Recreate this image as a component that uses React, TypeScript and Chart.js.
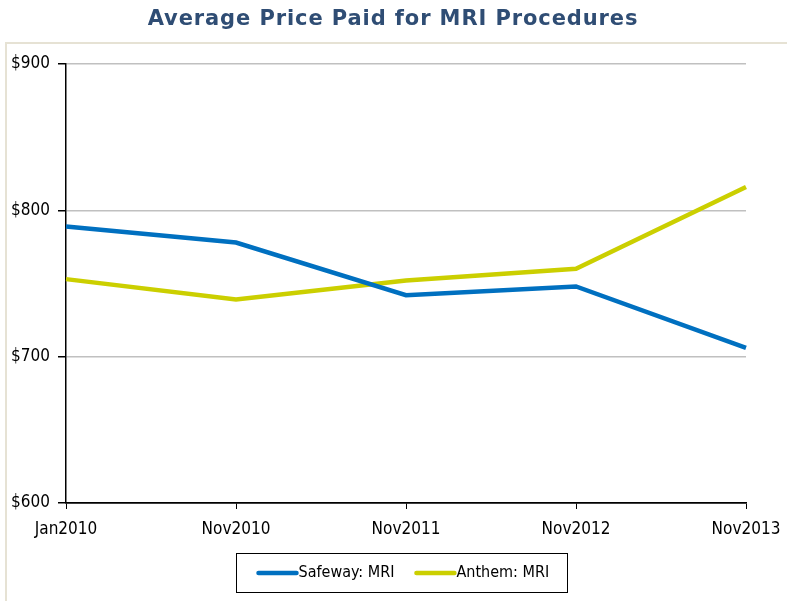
import React, { useEffect, useRef } from "react";
import { Chart, registerables } from "chart.js";

Chart.register(...registerables);

const titleText = "Average Price Paid for MRI Procedures";
const categories = ["Jan2010", "Nov2010", "Nov2011", "Nov2012", "Nov2013"];
const safewayLabel = "Safeway: MRI";
const safewayValues = [789, 778, 742, 748, 706];
const anthemLabel = "Anthem: MRI";
const anthemValues = [753, 739, 752, 760, 816];
const yMin = 600;
const yMax = 900;
const yStep = 100;

const AXIS_FONT = "'DejaVu Sans Condensed', 'Liberation Sans Narrow', 'Arial Narrow', 'Liberation Sans', sans-serif";

const decorPlugin = {
  id: "decor",
  beforeDraw(chart: any) {
    const ctx = chart.ctx;
    ctx.save();
    ctx.fillStyle = "#ffffff";
    ctx.fillRect(0, 0, chart.width, chart.height);
    // frame
    ctx.strokeStyle = "#e6e2d4";
    ctx.lineWidth = 2;
    ctx.beginPath();
    ctx.moveTo(6, chart.height);
    ctx.lineTo(6, 43);
    ctx.lineTo(chart.width, 43);
    ctx.stroke();
    // title
    ctx.fillStyle = "#2f4d74";
    ctx.font = "bold 21px 'DejaVu Sans', Verdana, sans-serif";
    try {
      (ctx as any).letterSpacing = "0.9px";
    } catch (e) {}
    ctx.textAlign = "center";
    ctx.textBaseline = "middle";
    ctx.fillText(titleText, 393, 20);
    try {
      (ctx as any).letterSpacing = "0px";
    } catch (e) {}
    ctx.restore();
  },
  afterDraw(chart: any) {
    const ctx = chart.ctx;
    ctx.save();
    ctx.font = "16px " + AXIS_FONT;
    ctx.textBaseline = "middle";
    ctx.textAlign = "left";
    const swatch = 38;
    const gapItems = 22;
    const sets = chart.data.datasets;
    const widths = sets.map((d: any) => swatch + 2 + ctx.measureText(d.label).width);
    const content = widths.reduce((a: number, b: number) => a + b, 0) + gapItems * (sets.length - 1);
    const padL = 22;
    const padR = 18;
    const boxW = Math.round(content + padL + padR);
    const cx = 401;
    const boxL = Math.round(cx - boxW / 2) + 0.5;
    const boxT = 553.5;
    const boxH = 39;
    ctx.strokeStyle = "#000";
    ctx.lineWidth = 1;
    ctx.strokeRect(boxL, boxT, boxW, boxH);
    let x = boxL + padL;
    const y = boxT + boxH / 2;
    sets.forEach((d: any, i: number) => {
      ctx.strokeStyle = d.borderColor;
      ctx.lineWidth = 4.5;
      ctx.lineCap = "round";
      ctx.beginPath();
      ctx.moveTo(x, y);
      ctx.lineTo(x + swatch, y);
      ctx.stroke();
      ctx.fillStyle = "#000";
      ctx.fillText(d.label, x + swatch + 2, y);
      x += widths[i] + gapItems;
    });
    ctx.restore();
  },
};

export default function App() {
  const ref = useRef<HTMLCanvasElement>(null);
  useEffect(() => {
    if (!ref.current) return;
    const chart = new Chart(ref.current, {
      type: "line",
      data: {
        labels: categories,
        datasets: [
          {
            label: safewayLabel,
            data: safewayValues,
            borderColor: "#0070c0",
            backgroundColor: "#0070c0",
            borderWidth: 4.5,
            pointRadius: 0,
            tension: 0,
          },
          {
            label: anthemLabel,
            data: anthemValues,
            borderColor: "#cbcf00",
            backgroundColor: "#cbcf00",
            borderWidth: 4.5,
            pointRadius: 0,
            tension: 0,
          },
        ],
      },
      options: {
        responsive: false,
        animation: false,
        layout: { padding: { top: 64, right: 41, bottom: 0, left: 0 } },
        plugins: {
          legend: { display: false },
          title: { display: false },
          tooltip: { enabled: false },
        },
        scales: {
          x: {
            offset: false,
            grid: {
              drawOnChartArea: false,
              drawTicks: true,
              tickLength: 6,
              tickColor: "#000",
            },
            border: { color: "#000", width: 1.5 },
            ticks: {
              color: "#000",
              font: { family: AXIS_FONT, size: 17 },
              padding: 10,
              maxRotation: 0,
            },
            afterFit(scale: any) {
              scale.height = 98;
              scale.paddingLeft = 0;
              scale.paddingRight = 0;
            },
          },
          y: {
            min: yMin,
            max: yMax,
            grid: {
              color: (c: any) => (c.tick && c.tick.value === yMin ? "#000" : "#c0c0c0"),
              lineWidth: 1.5,
              tickLength: 8,
              tickColor: "#000",
            },
            border: { color: "#000", width: 1.5 },
            ticks: {
              stepSize: yStep,
              color: "#000",
              font: { family: AXIS_FONT, size: 17 },
              padding: 8,
              callback: (v: any) => "$" + v,
            },
            afterFit(scale: any) {
              scale.width = 66;
              scale.paddingTop = 0;
              scale.paddingBottom = 0;
            },
          },
        },
      },
      plugins: [decorPlugin],
    });
    return () => chart.destroy();
  }, []);
  return (
    <div style={{ position: "absolute", left: 0, top: 0, width: 787, height: 601 }}>
      <canvas ref={ref} width={787} height={601} style={{ width: 787, height: 601, display: "block" }} />
    </div>
  );
}
